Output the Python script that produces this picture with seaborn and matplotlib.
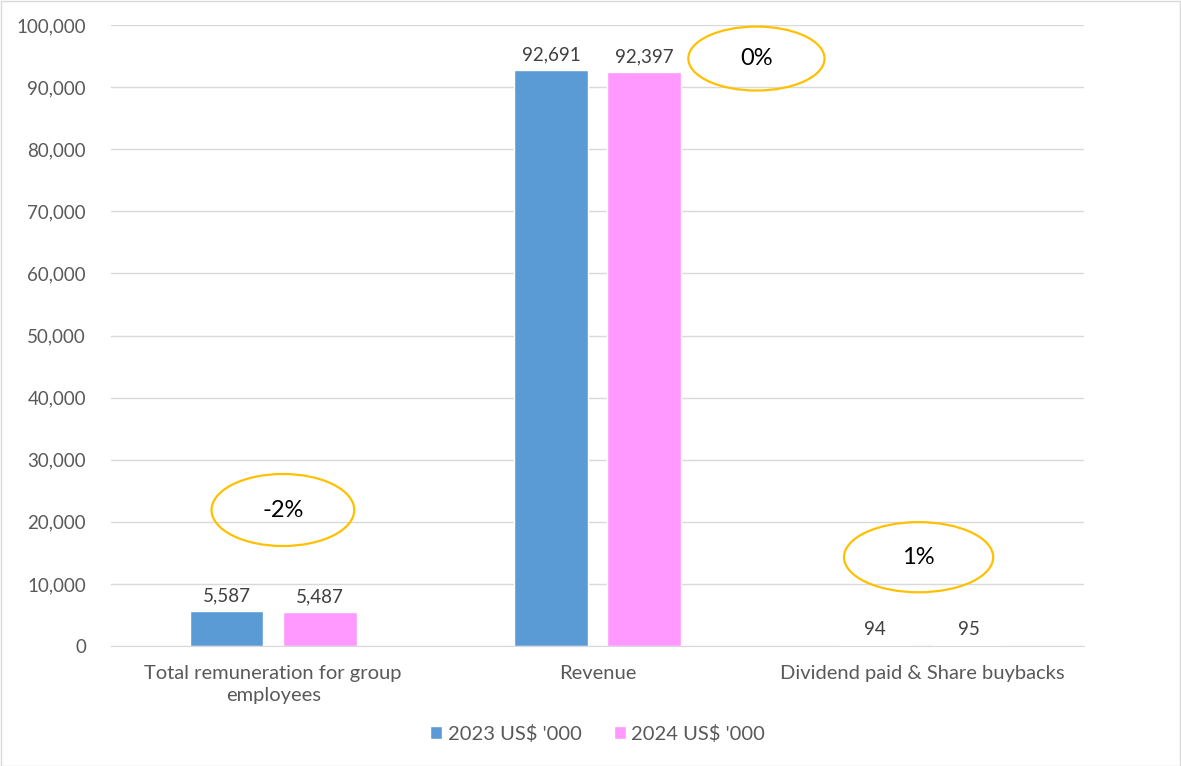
import pandas as pd
import matplotlib.pyplot as plt
import seaborn as sns
from matplotlib.patches import Ellipse, Rectangle
from matplotlib.ticker import FuncFormatter

categories = ['Total remuneration for group\nemployees', 'Revenue', 'Dividend paid & Share buybacks']
series = ["2023 US$ '000", "2024 US$ '000"]
values_2023 = [5587, 92691, 94]
values_2024 = [5487, 92397, 95]
changes = ['-2%', '0%', '1%']
colors = ['#5B9BD5', '#FF99FF']


def build_frame():
    rows = []
    for cat, a, b in zip(categories, values_2023, values_2024):
        rows.append({'category': cat, 'series': series[0], 'value': a})
        rows.append({'category': cat, 'series': series[1], 'value': b})
    return pd.DataFrame(rows)


def main():
    df = build_frame()
    sns.set_style('white')
    plt.rcParams['font.family'] = ['Lato', 'DejaVu Sans']

    fig = plt.figure(figsize=(11.81, 7.66), dpi=100)
    ax = fig.add_axes([111 / 1181, 120 / 766, 973 / 1181, 621 / 766])

    sns.barplot(data=df, x='category', y='value', hue='series', palette=colors,
                width=0.575, gap=0.21, ax=ax, saturation=1, errorbar=None)

    for container in ax.containers:
        ax.bar_label(container, labels=[f'{v:,.0f}' for v in container.datavalues],
                     padding=5, fontsize=13.5, color='#404040')

    ax.set_ylim(0, 100000)
    ax.set_xlim(-0.5, 2.5)
    ax.set_yticks(range(0, 100001, 10000))
    ax.yaxis.set_major_formatter(FuncFormatter(lambda v, p: f'{v:,.0f}'))
    ax.yaxis.grid(True, color='#D9D9D9', linewidth=1)
    ax.set_axisbelow(True)
    ax.tick_params(axis='y', length=0, labelsize=13.5, labelcolor='#595959', pad=18)
    ax.tick_params(axis='x', length=0, labelsize=14.5, labelcolor='#595959', pad=14)
    for lbl in ax.get_xticklabels():
        lbl.set_linespacing(1.35)
    ax.set_xlabel('')
    ax.set_ylabel('')
    for side in ['left', 'right', 'top']:
        ax.spines[side].set_visible(False)
    ax.spines['bottom'].set_color('#D9D9D9')

    # change-percentage callouts (x in category units, y in data units)
    callouts = [(0.03, 21900, 0.44, 11600), (1.49, 94600, 0.42, 10300), (1.99, 14300, 0.46, 11300)]
    for (cx, cy, w, h), txt in zip(callouts, changes):
        ax.add_patch(Ellipse((cx, cy), w, h, fill=False, edgecolor='#FFC000', linewidth=1.6, clip_on=False))
        ax.text(cx, cy, txt, ha='center', va='center', fontsize=17, color='black')

    handles, labels = ax.get_legend_handles_labels()
    ax.legend(handles, labels, loc='upper center', bbox_to_anchor=(0.5, -0.098), ncol=2,
              frameon=False, fontsize=14.5, handlelength=0.6, handleheight=0.6,
              columnspacing=1.6, handletextpad=0.25, labelcolor='#595959')

    fig.patches.append(Rectangle((0.5 / 1181, 0.5 / 766), 1 - 1.5 / 1181, 1 - 1.5 / 766,
                                 transform=fig.transFigure, fill=False,
                                 edgecolor='#D9D9D9', linewidth=1))

    fig.savefig('out.png', dpi=100)


if __name__ == '__main__':
    main()
